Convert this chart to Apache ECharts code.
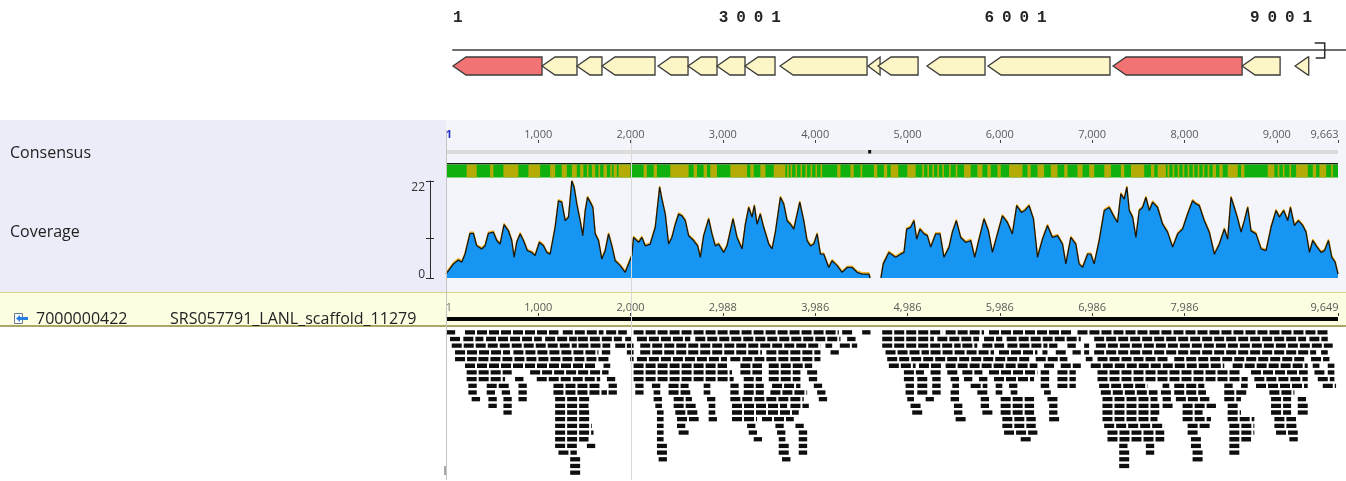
<!DOCTYPE html>
<html>
<head>
<meta charset="utf-8">
<title>SRS057791_LANL_scaffold_11279</title>
<script src="https://cdn.jsdelivr.net/npm/echarts@6/dist/echarts.min.js"></script>
<style>
  html, body { margin: 0; padding: 0; background: #ffffff; }
  #chart { width: 1346px; height: 481px; }
</style>
</head>
<body>
<div id="chart"></div>
<script>
// ---- gene map (top) ----
const mapAxisMax = 10084;
const mapTicks = [1, 3001, 6001, 9001];
// [start, end, highlighted]
const genes = [
  [1, 1006, 1], [1006, 1401, 0], [1401, 1683, 0], [1683, 2282, 0], [2316, 2655, 0],
  [2655, 2982, 0], [2982, 3298, 0], [3298, 3637, 0], [3694, 4676, 0], [4687, 4823, 0],
  [4800, 5252, 0], [5353, 6008, 0], [6042, 7419, 0], [7454, 8911, 1], [8911, 9340, 0],
  [9509, 9663, 0]
];
const genomeEnd = 9663;

// ---- alignment ruler ----
const consensusTicks = [1, 1000, 2000, 3000, 4000, 5000, 6000, 7000, 8000, 9000, 9663];
const scaffoldTickPos = [1, 1000, 2000, 3000, 4000, 5000, 6000, 7000, 8000, 9663];
const scaffoldTickLabels = ['1', '1,000', '2,000', '2,988', '3,986', '4,986', '5,986', '6,986', '7,986', '9,649'];
const cursorPos = 2000;

// ---- consensus agreement: olive blocks on a green track ----
const oliveBlocks = [
  [225, 334], [478, 514], [623, 785], [894, 1021], [1129, 1183], [1255, 1310], [1364, 1418], [1454, 1490],
  [1527, 1545], [1581, 1617], [1653, 1671], [1707, 1744], [1780, 1798], [1816, 1852], [1870, 1997],
  [2141, 2177], [2250, 2286], [2430, 2629], [2683, 2720], [2792, 2828], [2864, 2936], [3081, 3262],
  [3298, 3334], [3406, 3461], [3551, 3677], [3696, 3714], [3732, 3750], [3786, 3804], [3840, 3858],
  [3894, 3912], [3949, 3967], [4003, 4021], [4057, 4075], [4238, 4274], [4382, 4418], [4491, 4509],
  [4636, 4672], [4744, 4780], [4817, 4900], [4998, 5088], [5160, 5179], [5215, 5233], [5269, 5287],
  [5323, 5341], [5377, 5395], [5450, 5468], [5522, 5540], [5612, 5685], [5757, 5811], [5865, 5902],
  [5974, 6010], [6100, 6245], [6299, 6335], [6408, 6480], [6552, 6625], [6697, 6733], [6841, 6896],
  [6968, 7022], [7131, 7203], [7311, 7348], [7420, 7564], [7637, 7673], [7709, 7799], [7817, 7836],
  [7872, 7890], [7926, 7944], [7980, 7998], [8034, 8052], [8089, 8107], [8143, 8161], [8197, 8215],
  [8251, 8269], [8305, 8342], [8378, 8414], [8468, 8577], [8613, 8649], [8902, 8974], [9010, 9028],
  [9065, 9083], [9137, 9155], [9209, 9336], [9390, 9426], [9462, 9535], [9589, 9607]
];
const gapMarks = [4590];

// ---- coverage depth ----
const depthTicks = [0, 9, 22];
const depthLabels = [0, 22];
const covPos = [
  1, 81, 135, 171, 207, 261, 298, 334, 388, 424,
  460, 514, 551, 587, 630, 677, 713, 739, 767, 804,
  840, 883, 930, 966, 1013, 1057, 1093, 1129, 1183, 1219,
  1255, 1292, 1328, 1364, 1389, 1418, 1454, 1483, 1509, 1534,
  1563, 1592, 1617, 1653, 1689, 1725, 1762, 1798, 1834, 1888,
  1942, 1978, 2014, 2033, 2087, 2123, 2159, 2213, 2268, 2315,
  2340, 2376, 2412, 2448, 2485, 2521, 2557, 2593, 2629, 2683,
  2727, 2756, 2792, 2846, 2882, 2918, 2954, 3009, 3045, 3110,
  3153, 3208, 3244, 3280, 3316, 3341, 3370, 3406, 3442, 3497,
  3533, 3569, 3623, 3659, 3696, 3732, 3768, 3797, 3833, 3876,
  3912, 3949, 3985, 4021, 4057, 4093, 4147, 4183, 4238, 4292,
  4346, 4400, 4455, 4509, 4581, 4595, 4650, 4712, 4737, 4798,
  4817, 4871, 4925, 4962, 4991, 5034, 5070, 5099, 5135, 5179,
  5215, 5251, 5305, 5352, 5395, 5450, 5486, 5529, 5576, 5630,
  5685, 5728, 5775, 5829, 5876, 5920, 5974, 6028, 6082, 6136,
  6183, 6234, 6270, 6317, 6364, 6408, 6462, 6516, 6570, 6625,
  6679, 6715, 6769, 6823, 6859, 6896, 6950, 6986, 7022, 7076,
  7131, 7185, 7239, 7275, 7311, 7347, 7376, 7402, 7438, 7474,
  7510, 7546, 7583, 7619, 7655, 7709, 7763, 7817, 7872, 7926,
  7980, 8034, 8088, 8125, 8161, 8215, 8269, 8324, 8378, 8432,
  8468, 8504, 8540, 8577, 8613, 8649, 8685, 8721, 8775, 8830,
  8884, 8938, 8992, 9028, 9075, 9119, 9148, 9191, 9234, 9281,
  9317, 9354, 9390, 9437, 9480, 9516, 9560, 9596, 9632, 9663
];
const covDepth = [
  0.9, 3.2, 4.1, 3.6, 5.4, 10.1, 10.1, 7.3, 6.6, 7.3,
  10.1, 10.4, 8.5, 7.7, 12.1, 10.7, 8.5, 4.7, 8.1, 10.0,
  8.5, 6.2, 5.8, 5.1, 8.1, 7.3, 5.8, 5.4, 11.5, 17.5,
  17.2, 13.0, 13.8, 22, 20.6, 16.8, 13.0, 9.6, 15.3, 18.3,
  17.2, 16.0, 10.0, 8.5, 4.3, 6.2, 10.0, 7.3, 3.9, 2.8,
  1.3, 3.2, 5.1, 9.2, 8.1, 9.2, 7.3, 7.7, 11.5, 20.6,
  17.9, 14.5, 7.7, 9.2, 12.2, 14.5, 14.1, 13.0, 9.6, 8.5,
  7.3, 4.7, 9.6, 13.4, 10.0, 7.3, 7.7, 5.8, 7.3, 13.4,
  9.2, 6.6, 12.2, 16.0, 13.8, 16.4, 12.2, 14.5, 11.5, 7.7,
  6.6, 10.4, 18.3, 16.8, 13.0, 12.2, 11.1, 13.8, 17.2, 13.0,
  8.5, 7.3, 7.7, 10.0, 5.4, 5.4, 2.4, 3.9, 2.8, 1.3,
  2.4, 2.4, 1.3, 0.9, 0.9, 0, null, 0, 3.2, 5.8,
  5.4, 4.7, 5.4, 5.8, 11.1, 11.5, 13.0, 8.8, 11.1, 10.0,
  9.6, 7.0, 10.0, 10.0, 4.7, 7.0, 10.4, 13.0, 9.2, 8.1,
  8.5, 4.7, 8.8, 13.4, 10.7, 5.8, 10.0, 14.1, 12.6, 10.0,
  16.4, 14.9, 15.3, 16.4, 13.4, 4.7, 8.8, 11.9, 9.2, 9.6,
  7.7, 3.2, 9.2, 7.7, 3.2, 2.4, 5.4, 5.4, 3.2, 8.5,
  15.3, 16.0, 13.8, 12.6, 19.1, 17.9, 20.6, 15.3, 13.8, 9.2,
  15.3, 16.0, 18.3, 15.3, 17.2, 16.0, 12.2, 10.4, 7.0, 10.0,
  11.1, 14.5, 17.5, 16.8, 16.4, 13.0, 10.4, 5.4, 7.7, 11.1,
  8.8, 18.3, 16.0, 13.4, 10.4, 13.0, 16.0, 10.7, 10.0, 6.6,
  6.2, 11.5, 15.3, 13.8, 15.3, 13.0, 16.0, 11.9, 13.0, 11.9,
  10.4, 5.8, 8.5, 7.0, 5.8, 6.2, 8.5, 4.7, 3.6, 0.9
];

// ---- read pile-up: each row lists runs of back-to-back reads [start, end] ----
const readRows = [
  [[1,100],[207,1219],[1266,1707],[1736,1960],[2033,4256],[4292,4400],[4509,4599],[4726,5377],[5413,5829],[5883,6787],[6841,9570]],
  [[44,153],[189,406],[435,1039],[1075,1418],[1429,1906],[1942,2014],[2069,2647],[2701,4274],[4346,4437],[4726,5286],[5323,5774],[5829,6027],[6074,6877],[7022,9317],[9353,9552]],
  [[63,1418],[1436,1780],[1834,1942],[1960,2033],[2105,4057],[4111,4184],[4267,4455],[4726,5576],[5594,5756],[5811,6046],[6082,6516],[6534,6624],[6732,6823],[6913,6967],[7040,9606]],
  [[99,695],[731,1653],[1689,1780],[1960,2033],[2105,3424],[3471,4057],[4166,4256],[4762,5232],[5250,5937],[5991,6407],[6461,6516],[6606,6714],[6787,6877],[6913,6967],[7022,9426],[9480,9552]],
  [[99,334],[352,1780],[1996,2033],[2069,3045],[3081,4057],[4780,6335],[6389,6732],[6931,7004],[7058,7835],[7889,9317],[9371,9570]],
  [[207,1617],[1707,1780],[2033,3045],[3190,3424],[3497,3967],[4798,5088],[5124,5377],[5413,6407],[6479,6606],[6660,6877],[6985,8431],[8522,9335],[9389,9462],[9552,9624]],
  [[225,713],[912,1762],[2033,3099],[3190,3424],[3497,3840],[3913,4021],[4961,5178],[5250,5359],[5431,5540],[5594,5811],[5883,6407],[6443,6534],[6624,6823],[7058,8612],[8721,9335],[9408,9516],[9552,9624]],
  [[225,641],[749,840],[984,1671],[1744,1834],[2033,3117],[3226,3424],[3497,3840],[3931,4021],[4961,5070],[5106,5214],[5268,5359],[5467,5558],[5612,5702],[5774,5865],[5937,6371],[6443,6534],[6624,6823],[7058,8685],[8757,9335],[9444,9624]],
  [[243,334],[442,695],[786,876],[1165,1671],[1762,1852],[2051,2141],[2232,2322],[2412,2629],[2792,2864],[3081,3171],[3226,3443],[3533,3840],[3985,4075],[4979,5070],[5106,5214],[5268,5359],[5485,5558],[5684,5865],[5955,6027],[6100,6190],[6443,6534],[6624,6823],[7076,7600],[7763,7835],[7889,8215],[8431,8522],[8612,8685],[8775,9335],[9498,9642]],
  [[243,334],[442,532],[605,695],[786,876],[1165,1744],[1762,1852],[2051,2141],[2250,2322],[2412,2647],[2792,2864],[3081,3171],[3226,3443],[3515,3913],[4021,4111],[4979,5070],[5106,5214],[5268,5359],[5467,5558],[5756,5865],[5955,6027],[6118,6190],[6479,6552],[7094,7708],[7745,7853],[7889,8233],[8431,8685],[8920,9191]],
  [[279,370],[460,551],[623,713],[786,876],[1183,1563],[2250,2340],[2467,2665],[2828,2918],[3081,3876],[4039,4129],[4997,5070],[5196,5286],[5467,5558],[5793,5883],[6009,6371],[6516,6624],[7112,7708],[7763,7853],[7907,8269],[8431,8612],[8938,9155],[9227,9317]],
  [[460,551],[623,713],[1183,1545],[2268,2340],[2467,2720],[2846,2918],[3099,3696],[3732,3931],[5033,5142],[5503,5594],[5793,5883],[6009,6371],[6534,6624],[7112,7727],[7763,7871],[7980,8341],[8468,8576],[8938,9155],[9227,9335]],
  [[623,713],[1183,1563],[2286,2358],[2485,2738],[2846,2918],[3099,3822],[5051,5160],[5503,5594],[5811,5937],[6009,6371],[6534,6624],[7112,7727],[7980,8196],[8468,8612],[8938,9155],[9227,9335]],
  [[1183,1563],[2286,2358],[2503,2738],[2846,2936],[3099,3370],[3424,3768],[5521,5630],[6027,6389],[6534,6642],[7112,7708],[7980,8287],[8468,8757],[8974,9208]],
  [[1183,1581],[2286,2358],[2503,2593],[3262,3352],[3569,3659],[3786,3876],[6027,6389],[7130,7781],[8034,8287],[8486,8757],[8974,9227]],
  [[1183,1599],[2286,2358],[2521,2629],[3280,3370],[3587,3677],[3822,3913],[6046,6407],[7166,7781],[8034,8142],[8486,8757],[8992,9227]],
  [[1183,1545],[2286,2358],[3334,3424],[3605,3677],[3822,3913],[6226,6335],[7166,7781],[8070,8178],[8486,8721],[9136,9227]],
  [[1183,1418],[1527,1617],[2286,2394],[3605,3714],[3822,3913],[7293,7383],[7582,7672],[8070,8178],[8486,8594]],
  [[1219,1418],[2286,2394],[3605,3714],[3822,3913],[7293,7401],[7582,7672],[8088,8197],[8486,8594]],
  [[1346,1454],[2304,2394],[3641,3732],[7293,7401],[8088,8197]],
  [[1346,1454],[7293,7401]],
  [[1346,1454]]
];

// ---------------------------------------------------------------
const UI_FONT = '"Open Sans", "Noto Sans", sans-serif';

function withCommas(n) {
  return String(n).replace(/\B(?=(\d{3})+(?!\d))/g, ',');
}

const readData = [];
readRows.forEach((row, r) => row.forEach(run => readData.push([run[0], run[1], r])));

const coverageData = covPos.map((p, i) => [p, covDepth[i] === null ? '-' : covDepth[i]]);

function renderGene(params, api) {
  const s = api.coord([api.value(0), 1]);
  const e = api.coord([api.value(1), 0]);
  const x0 = s[0], x1 = e[0], yt = s[1], yb = e[1], ym = (yt + yb) / 2;
  const len = x1 - x0;
  const head = Math.min(13, len);
  const pts = head >= len
    ? [[x0, ym], [x1, yt], [x1, yb]]
    : [[x0, ym], [x0 + head, yt], [x1, yt], [x1, yb], [x0 + head, yb]];
  return {
    type: 'polygon',
    shape: { points: pts },
    style: { fill: api.value(2) ? '#f27373' : '#fcf6c6', stroke: '#3b3b3b', lineWidth: 1.3 }
  };
}

function renderTerminus(params, api) {
  const p = api.coord([api.value(0), 1]);
  const x = p[0], y = p[1];
  return {
    type: 'polyline',
    shape: { points: [[x + 6, y - 14], [x + 16, y - 14], [x + 16, y + 1], [x + 7, y + 1]] },
    style: { stroke: '#2a2a2a', lineWidth: 1.5, fill: null }
  };
}

function renderConsensusBase(params, api) {
  const a = api.coord([api.value(0), 0]);
  const b = api.coord([api.value(1), 0]);
  const top = params.coordSys.y;
  const w = b[0] - a[0];
  return {
    type: 'group',
    children: [
      { type: 'rect', shape: { x: a[0], y: top, width: w, height: 4 }, style: { fill: '#dcdcdc' } },
      { type: 'rect', shape: { x: a[0], y: top + 13, width: w, height: 1.6 }, style: { fill: '#1c1c1c' } },
      { type: 'rect', shape: { x: a[0], y: top + 14.6, width: w, height: 12.8 }, style: { fill: '#10b10f' } }
    ]
  };
}

function renderOlive(params, api) {
  const a = api.coord([api.value(0), 0]);
  const b = api.coord([api.value(1), 0]);
  const top = params.coordSys.y;
  return {
    type: 'rect',
    shape: { x: a[0], y: top + 14.6, width: Math.max(1, b[0] - a[0]), height: 12.8 },
    style: { fill: '#b4ab06' }
  };
}

function renderGapMark(params, api) {
  const a = api.coord([api.value(0), 0]);
  const top = params.coordSys.y;
  return { type: 'rect', shape: { x: a[0] - 1.5, y: top, width: 3, height: 3.5 }, style: { fill: '#111' } };
}

function renderScaffoldBar(params, api) {
  const a = api.coord([api.value(0), 0]);
  const b = api.coord([api.value(1), 0]);
  const cs = params.coordSys;
  return { type: 'rect', shape: { x: a[0], y: cs.y, width: b[0] - a[0], height: cs.height }, style: { fill: '#050505' } };
}

function renderReadRun(params, api) {
  const a = api.coord([api.value(0), api.value(2)]);
  const b = api.coord([api.value(1), api.value(2)]);
  return {
    type: 'line',
    shape: { x1: a[0], y1: a[1], x2: b[0], y2: b[1] },
    style: { stroke: '#0e0e0e', lineWidth: 4.3, lineDash: [10, 2] }
  };
}

function renderGuide(params, api) {
  const a = api.coord([api.value(0), 0]);
  const cs = params.coordSys;
  const x = Math.round(a[0]) + 0.5;
  return {
    type: 'line',
    shape: { x1: x, y1: cs.y, x2: x, y2: cs.y + cs.height },
    style: { stroke: api.value(1) ? '#c4c4c4' : '#d9d9d9', lineWidth: 1 }
  };
}

// tick labels at the two ends hug the ruler ends instead of centring on them
function edgeRich(color, bold) {
  const base = { fontFamily: UI_FONT, fontSize: 11, color: color };
  if (bold) base.fontWeight = 'bold';
  return {
    first: Object.assign({}, base, { padding: [0, 0, 0, 6] }),
    last: Object.assign({}, base, { color: '#5a5a5a', fontWeight: 'normal', padding: [0, 27, 0, 0] })
  };
}

const hiddenX = (gi) => ({ type: 'value', gridIndex: gi, min: 1, max: genomeEnd, show: false });
const hiddenY = (gi, mn, mx, inv) => ({ type: 'value', gridIndex: gi, min: mn, max: mx, inverse: !!inv, show: false });

const option = {
  animation: false,
  backgroundColor: '#ffffff',
  grid: [
    { left: 453, right: 0, top: 57, height: 18, outerBoundsMode: 'none' },       // 0 gene map
    { left: 446, right: 8, top: 150, height: 28, outerBoundsMode: 'none' },      // 1 consensus
    { left: 446, right: 8, top: 181, height: 97, outerBoundsMode: 'none' },      // 2 coverage
    { left: 446, right: 8, top: 317, height: 4, outerBoundsMode: 'none' },       // 3 scaffold ruler
    { left: 446, right: 8, top: 329, height: 147, outerBoundsMode: 'none' },     // 4 reads
    { left: 446, right: 8, top: 130, height: 350, outerBoundsMode: 'none' }      // 5 guides
  ],
  xAxis: [
    {
      type: 'value', gridIndex: 0, min: 1, max: mapAxisMax, position: 'top', offset: 7,
      axisLine: { show: true, onZero: false, lineStyle: { color: '#6e6e6e', width: 2 } },
      axisTick: { show: false }, splitLine: { show: false },
      axisLabel: {
        customValues: mapTicks, align: 'left', margin: 24,
        formatter: v => String(v).split('').map(c => '{d|' + c + '}').join(''),
        rich: { d: { fontFamily: '"Liberation Mono", "DejaVu Sans Mono", monospace', fontWeight: 'bold', fontSize: 16, color: '#262626', width: 17.5, align: 'left' } }
      }
    },
    {
      type: 'value', gridIndex: 1, min: 1, max: genomeEnd, position: 'top', offset: 7,
      axisLine: { show: false, onZero: false }, splitLine: { show: false },
      axisTick: { show: true, customValues: consensusTicks, length: 3, lineStyle: { color: '#444', width: 1 } },
      axisLabel: {
        customValues: consensusTicks, margin: 3, fontFamily: UI_FONT, fontSize: 11, color: '#5a5a5a',
        formatter: v => v === 1 ? '{first|1}' : (v === genomeEnd ? '{last|' + withCommas(v) + '}' : withCommas(v)),
        rich: edgeRich('#2733c9', true)
      }
    },
    hiddenX(2),
    {
      type: 'value', gridIndex: 3, min: 1, max: genomeEnd, position: 'top', offset: 1,
      axisLine: { show: false, onZero: false }, splitLine: { show: false },
      axisTick: { show: true, customValues: scaffoldTickPos, length: 3, lineStyle: { color: '#444', width: 1 } },
      axisLabel: {
        customValues: scaffoldTickPos, margin: 3, fontFamily: UI_FONT, fontSize: 11, color: '#5a5a5a',
        formatter: v => {
          const t = scaffoldTickLabels[scaffoldTickPos.indexOf(v)];
          return v === 1 ? '{first|' + t + '}' : (v === genomeEnd ? '{last|' + t + '}' : t);
        },
        rich: edgeRich('#777', false)
      }
    },
    hiddenX(4),
    hiddenX(5)
  ],
  yAxis: [
    hiddenY(0, 0, 1),
    hiddenY(1, 0, 1),
    {
      type: 'value', gridIndex: 2, min: 0, max: 22, position: 'left', offset: 16,
      splitLine: { show: false },
      axisLine: { show: true, onZero: false, lineStyle: { color: '#2b2b2b', width: 1 } },
      axisTick: { show: true, customValues: depthTicks, length: 4, lineStyle: { color: '#2b2b2b' } },
      axisLabel: {
        customValues: depthLabels, margin: 5, fontFamily: UI_FONT, fontSize: 12, color: '#333',
        formatter: v => v === 22 ? '{hi|22}' : '{lo|0}',
        rich: {
          hi: { fontFamily: UI_FONT, fontSize: 12, color: '#333', padding: [14, 0, 0, 0] },
          lo: { fontFamily: UI_FONT, fontSize: 12, color: '#333', padding: [0, 0, 7, 0] }
        }
      }
    },
    {
      type: 'value', gridIndex: 2, min: 0, max: 22, position: 'left', offset: 16,
      splitLine: { show: false }, axisLine: { show: false, onZero: false }, axisLabel: { show: false },
      axisTick: { show: true, inside: true, customValues: depthTicks, length: 4, lineStyle: { color: '#2b2b2b' } }
    },
    hiddenY(3, 0, 1),
    hiddenY(4, -0.5, readRows.length - 0.5, true),
    hiddenY(5, 0, 1)
  ],
  series: [
    {
      type: 'custom', name: 'genes', xAxisIndex: 0, yAxisIndex: 0,
      renderItem: renderGene, data: genes, clip: false, silent: true
    },
    {
      type: 'custom', name: 'terminus', xAxisIndex: 0, yAxisIndex: 0,
      renderItem: renderTerminus, data: [[genomeEnd]], clip: false, silent: true
    },
    {
      type: 'custom', name: 'consensus', xAxisIndex: 1, yAxisIndex: 1,
      renderItem: renderConsensusBase, data: [[1, genomeEnd]], clip: false, silent: true
    },
    {
      type: 'custom', name: 'disagreement', xAxisIndex: 1, yAxisIndex: 1,
      renderItem: renderOlive, data: oliveBlocks, clip: false, silent: true
    },
    {
      type: 'custom', name: 'gaps', xAxisIndex: 1, yAxisIndex: 1,
      renderItem: renderGapMark, data: gapMarks.map(g => [g]), clip: false, silent: true
    },
    {
      type: 'line', name: 'Coverage', xAxisIndex: 2, yAxisIndex: 2,
      data: coverageData, showSymbol: false, connectNulls: false, silent: true,
      lineStyle: { color: '#141414', width: 1.3, shadowColor: '#f2b21c', shadowOffsetY: -1.3, shadowBlur: 0 },
      areaStyle: { color: '#1795f2', opacity: 1 }
    },
    {
      type: 'custom', name: 'scaffold', xAxisIndex: 3, yAxisIndex: 4,
      renderItem: renderScaffoldBar, data: [[1, genomeEnd]], clip: false, silent: true
    },
    {
      type: 'custom', name: 'reads', xAxisIndex: 4, yAxisIndex: 5,
      renderItem: renderReadRun, data: readData, clip: false, silent: true
    },
    {
      type: 'custom', name: 'guides', xAxisIndex: 5, yAxisIndex: 6, z: 10,
      renderItem: renderGuide, data: [[1, 1], [cursorPos, 0]], clip: false, silent: true
    }
  ],
  graphic: [
    { type: 'rect', z: -10, silent: true, shape: { x: 0, y: 120, width: 446, height: 172 }, style: { fill: '#ececf8' } },
    { type: 'rect', z: -10, silent: true, shape: { x: 446, y: 120, width: 900, height: 172 }, style: { fill: '#f4f5fb' } },
    { type: 'rect', z: -10, silent: true, shape: { x: 0, y: 292, width: 1346, height: 35 }, style: { fill: '#fdfde2' } },
    { type: 'line', z: -5, silent: true, shape: { x1: 0, y1: 292.5, x2: 1346, y2: 292.5 }, style: { stroke: '#d8d68e', lineWidth: 1 } },
    { type: 'line', z: -5, silent: true, shape: { x1: 0, y1: 326, x2: 1346, y2: 326 }, style: { stroke: '#aaa766', lineWidth: 2 } },
    { type: 'text', z: 5, silent: true, x: 10, y: 153, style: { text: 'Consensus', fontFamily: UI_FONT, fontSize: 16, fill: '#222', verticalAlign: 'middle' } },
    { type: 'text', z: 5, silent: true, x: 10, y: 232, style: { text: 'Coverage', fontFamily: UI_FONT, fontSize: 16, fill: '#222', verticalAlign: 'middle' } },
    { type: 'rect', z: 5, silent: true, shape: { x: 14.5, y: 313.5, width: 8, height: 10 }, style: { fill: '#ffffff', stroke: '#6b7891', lineWidth: 1 } },
    { type: 'polygon', z: 6, silent: true, shape: { points: [[16, 318.5], [20, 315], [20, 317], [28, 317], [28, 320], [20, 320], [20, 322]] }, style: { fill: '#2a80e0' } },
    { type: 'text', z: 5, silent: true, x: 36, y: 319, style: { text: '7000000422', fontFamily: UI_FONT, fontSize: 16, fill: '#222', verticalAlign: 'middle' } },
    { type: 'text', z: 5, silent: true, x: 170, y: 319, style: { text: 'SRS057791_LANL_scaffold_11279', fontFamily: UI_FONT, fontSize: 16, fill: '#222', verticalAlign: 'middle' } },
    { type: 'rect', z: 5, silent: true, shape: { x: 444, y: 466, width: 3, height: 9 }, style: { fill: '#a8a8a8' } }
  ]
};

const chart = echarts.init(document.getElementById('chart'), null, { renderer: 'canvas' });
chart.setOption(option);
</script>
</body>
</html>
